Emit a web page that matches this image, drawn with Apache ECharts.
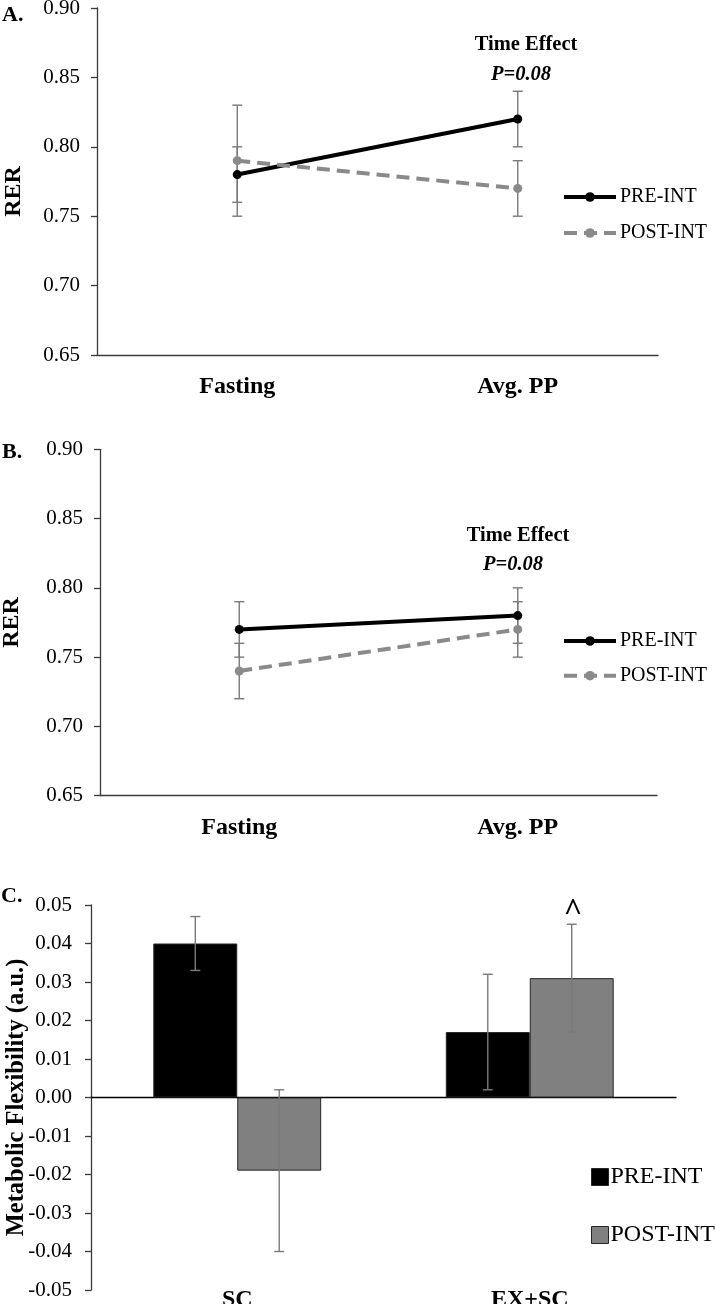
<!DOCTYPE html>
<html>
<head>
<meta charset="utf-8">
<script src="https://cdn.jsdelivr.net/npm/echarts@6/dist/echarts.min.js"></script>
<style>
html,body{margin:0;padding:0;background:#fff;}
#chart{width:715px;height:1304px;}
</style>
</head>
<body>
<div id="chart"></div>
<script>
// ---------- data ----------
const rerCategories = ['Fasting', 'Avg. PP'];
const aPre = [0.78, 0.82];
const aPreErr = [0.02, 0.02];
const aPost = [0.79, 0.77];
const aPostErr = [0.04, 0.02];

const bPre = [0.77, 0.78];
const bPreErr = [0.02, 0.02];
const bPost = [0.74, 0.77];
const bPostErr = [0.02, 0.02];

const flexCategories = ['SC', 'EX+SC'];
const cPre = [0.040, 0.017];
const cPreErr = [0.007, 0.015];
const cPost = [-0.019, 0.031];
const cPostErr = [0.021, 0.014];

const seriesNames = ['PRE-INT', 'POST-INT'];
const panelLabels = ['A.', 'B.', 'C.'];
const effectTitle = 'Time Effect';
const effectP = 'P=0.08';
const sigMark = '^';

// ---------- style ----------
const FONT = 'Liberation Serif';
const AXIS_COLOR = '#3a3a3a';
const ERR_COLOR = '#7a7a7a';
const POST_LINE = '#8a8a8a';
const BAR_GAP_CAT = 0.426;

function errData(vals, errs) {
  return vals.map((v, i) => [i, v - errs[i], v + errs[i]]);
}

function errRender(sign) {
  return function (params, api) {
    const x = api.value(0);
    const lo = api.coord([x, api.value(1)]);
    const hi = api.coord([x, api.value(2)]);
    let off = 0;
    if (sign !== 0) {
      const band = api.size([1, 0])[0];
      const bw = band * (1 - BAR_GAP_CAT) / 2;
      off = sign * bw / 2;
    }
    const cx = lo[0] + off;
    const cap = 5;
    const style = { stroke: ERR_COLOR, lineWidth: 1.4 };
    return {
      type: 'group',
      children: [
        { type: 'line', shape: { x1: cx, y1: hi[1], x2: cx, y2: lo[1] }, style: style },
        { type: 'line', shape: { x1: cx - cap, y1: hi[1], x2: cx + cap, y2: hi[1] }, style: style },
        { type: 'line', shape: { x1: cx - cap, y1: lo[1], x2: cx + cap, y2: lo[1] }, style: style }
      ]
    };
  };
}

function rerYAxis(gridIndex, nameGap, pad) {
  return {
    type: 'value', gridIndex: gridIndex, min: 0.65, max: 0.90, interval: 0.05,
    name: 'RER', nameLocation: 'middle', nameRotate: 90, nameGap: nameGap, nameMoveOverlap: false,
    nameTextStyle: { fontFamily: FONT, fontWeight: 'bold', fontSize: 24, color: '#000', padding: pad },
    axisLine: { show: true, lineStyle: { color: AXIS_COLOR, width: 1.3 } },
    axisTick: { show: true, length: 6, lineStyle: { color: AXIS_COLOR, width: 1.3 } },
    axisLabel: { fontFamily: FONT, fontSize: 21, color: '#000', margin: 17,
      formatter: v => v.toFixed(2) },
    splitLine: { show: false }
  };
}

function rerXAxis(gridIndex) {
  return {
    type: 'category', gridIndex: gridIndex, data: rerCategories,
    axisLine: { onZero: false, lineStyle: { color: AXIS_COLOR, width: 1.3 } },
    axisTick: { show: false },
    axisLabel: { fontFamily: FONT, fontSize: 24, fontWeight: 'bold', color: '#000', margin: 20 }
  };
}

function lineSeries(name, gi, data, isPost) {
  return {
    type: 'line', name: name, xAxisIndex: gi, yAxisIndex: gi, data: data,
    symbol: 'circle', symbolSize: 9, z: isPost ? 4 : 3,
    lineStyle: { color: isPost ? POST_LINE : '#000', width: 4, type: isPost ? [13, 7] : 'solid' },
    itemStyle: { color: isPost ? POST_LINE : '#000' }
  };
}

function errSeries(gi, vals, errs, sign) {
  return {
    type: 'custom', xAxisIndex: gi, yAxisIndex: gi, z: 2,
    data: errData(vals, errs), renderItem: errRender(sign),
    encode: { x: 0, y: [1, 2] }, silent: true
  };
}

function lineLegend(top, gap) {
  return {
    orient: 'vertical', left: 557, top: top, itemGap: gap,
    itemWidth: 52, itemHeight: 12,
    data: seriesNames,
    lineStyle: { width: 4 },
    textStyle: { fontFamily: FONT, fontSize: 20, color: '#000', padding: [0, 0, 0, -1] }
  };
}

function txt(x, y, text, size, weight, style, align) {
  return {
    type: 'text', x: x, y: y,
    style: { text: text, fontFamily: FONT, fontSize: size, fontWeight: weight || 'normal',
      fontStyle: style || 'normal', fill: '#000', align: align || 'center', verticalAlign: 'middle' }
  };
}

const option = {
  animation: false,
  backgroundColor: '#fff',
  grid: [
    { left: 97, top: 8, width: 561, height: 347, outerBoundsMode: 'none', containLabel: false },
    { left: 100, top: 449.3, width: 557, height: 346.4, outerBoundsMode: 'none', containLabel: false },
    { left: 91, top: 905, width: 585, height: 385, outerBoundsMode: 'none', containLabel: false }
  ],
  xAxis: [
    rerXAxis(0),
    rerXAxis(1),
    {
      type: 'category', gridIndex: 2, data: flexCategories, position: 'bottom',
      axisLine: { show: false, onZero: false }, axisTick: { show: false },
      axisLabel: { fontFamily: FONT, fontSize: 24, fontWeight: 'bold', color: '#000', margin: -2 }
    },
    {
      type: 'category', gridIndex: 2, data: flexCategories, position: 'bottom',
      axisLine: { show: true, onZero: true, onZeroAxisIndex: 2, lineStyle: { color: '#000', width: 1.3 } },
      axisTick: { show: false }, axisLabel: { show: false }
    }
  ],
  yAxis: [
    rerYAxis(0, 71, [0, 20, 0, 0]),
    rerYAxis(1, 76, [0, 0, 0, 0]),
    {
      type: 'value', gridIndex: 2, min: -0.05, max: 0.05, interval: 0.01,
      name: 'Metabolic Flexibility (a.u.)', nameLocation: 'middle', nameRotate: 90, nameGap: 62,
      nameMoveOverlap: false,
      nameTextStyle: { fontFamily: FONT, fontWeight: 'bold', fontSize: 24.5, color: '#000' },
      axisLine: { show: true, lineStyle: { color: AXIS_COLOR, width: 1.3 } },
      axisTick: { show: true, length: 6, lineStyle: { color: AXIS_COLOR, width: 1.3 } },
      axisLabel: { fontFamily: FONT, fontSize: 21, color: '#000', margin: 19,
        formatter: v => (Math.abs(v) < 1e-9 ? 0 : v).toFixed(2) },
      splitLine: { show: false }
    }
  ],
  legend: [
    lineLegend(182, 16),
    lineLegend(626, 14.7),
    {
      orient: 'vertical', left: 586, top: 1160, itemGap: 34,
      itemWidth: 17, itemHeight: 17,
      data: [
        { name: seriesNames[0], icon: 'rect', itemStyle: { color: '#000', borderColor: '#262626', borderWidth: 1 } },
        { name: seriesNames[1], icon: 'rect', itemStyle: { color: '#808080', borderColor: '#262626', borderWidth: 1 } }
      ],
      textStyle: { fontFamily: FONT, fontSize: 24, color: '#000', padding: [0, 0, 0, -3] }
    }
  ],
  series: [
    errSeries(0, aPre, aPreErr, 0),
    errSeries(0, aPost, aPostErr, 0),
    lineSeries(seriesNames[0], 0, aPre, false),
    lineSeries(seriesNames[1], 0, aPost, true),

    errSeries(1, bPre, bPreErr, 0),
    errSeries(1, bPost, bPostErr, 0),
    lineSeries(seriesNames[0], 1, bPre, false),
    lineSeries(seriesNames[1], 1, bPost, true),

    {
      type: 'bar', name: seriesNames[0], xAxisIndex: 2, yAxisIndex: 2, data: cPre,
      barGap: '0%', barCategoryGap: (BAR_GAP_CAT * 100) + '%',
      itemStyle: { color: '#000', borderColor: '#262626', borderWidth: 1 }
    },
    {
      type: 'bar', name: seriesNames[1], xAxisIndex: 2, yAxisIndex: 2, data: cPost,
      barGap: '0%', barCategoryGap: (BAR_GAP_CAT * 100) + '%',
      itemStyle: { color: '#808080', borderColor: '#262626', borderWidth: 1 }
    },
    Object.assign(errSeries(2, cPre, cPreErr, -1), { z: 5 }),
    Object.assign(errSeries(2, cPost, cPostErr, 1), { z: 5 })
  ],
  graphic: [
    txt(2, 15, panelLabels[0], 22, 'bold', 'normal', 'left'),
    txt(2, 452, panelLabels[1], 22, 'bold', 'normal', 'left'),
    txt(1, 896, panelLabels[2], 22, 'bold', 'normal', 'left'),
    txt(526, 45, effectTitle, 20.5, 'bold'),
    txt(521, 75, effectP, 20.5, 'bold', 'italic'),
    txt(518, 536, effectTitle, 20.5, 'bold'),
    txt(513, 565, effectP, 20.5, 'bold', 'italic'),
    txt(573, 912, sigMark, 32, 'bold')
  ]
};

const chart = echarts.init(document.getElementById('chart'), null, { renderer: 'canvas' });
chart.setOption(option);
</script>
</body>
</html>
